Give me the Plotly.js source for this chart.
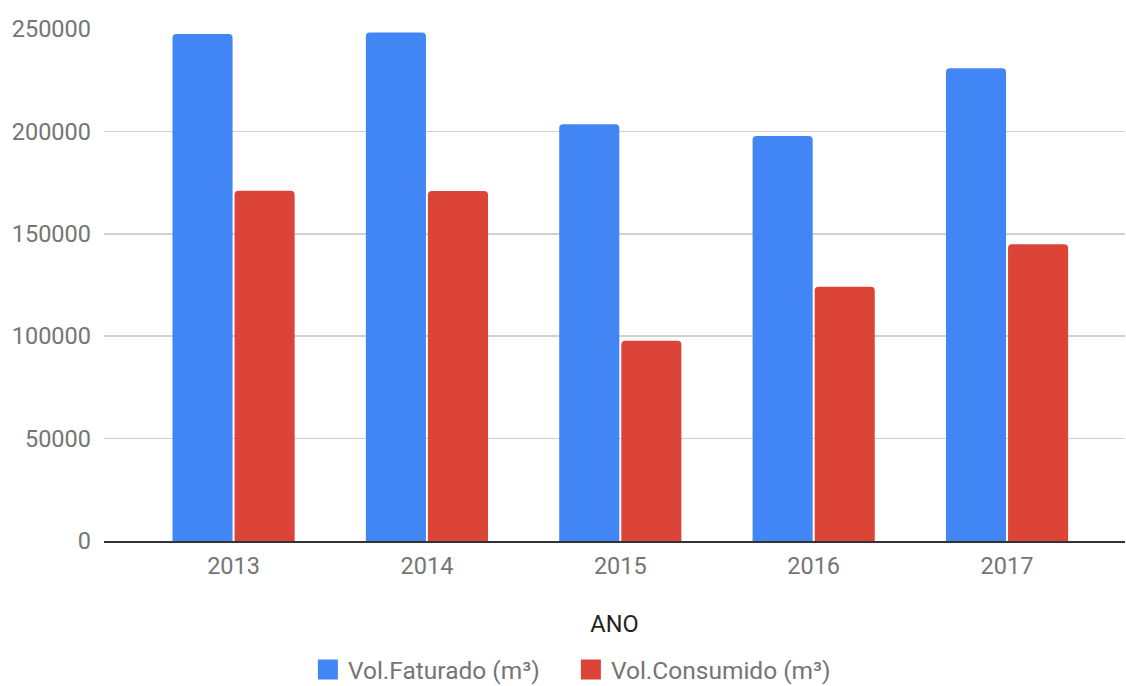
<!DOCTYPE html>
<html>
<head>
<meta charset="utf-8">
<script src="https://cdn.plot.ly/plotly-3.0.1.min.js"></script>
<style>html,body{margin:0;padding:0;background:#fff;}#chart{width:1126px;height:686px;}</style>
</head>
<body>
<div id="chart"></div>
<script>
const anos = ["2013", "2014", "2015", "2016", "2017"];
const volFaturado = [247500, 248300, 203500, 197700, 230800];
const volConsumido = [171000, 170900, 97800, 124200, 144900];
const nomeFaturado = "Vol.Faturado (m³)";
const nomeConsumido = "Vol.Consumido (m³)";
const yTicks = [0, 50000, 100000, 150000, 200000, 250000];
const corFaturado = "#4285F4";
const corConsumido = "#DB4437";

const font = "Roboto, 'Liberation Sans', Arial, sans-serif";
const fs = 23.5;

const data = [
  {type: "bar", x: anos, y: volFaturado, name: nomeFaturado, showlegend: false,
   marker: {color: corFaturado, cornerradius: 4}, hoverinfo: "skip"},
  {type: "bar", x: anos, y: volConsumido, name: nomeConsumido, showlegend: false,
   marker: {color: corConsumido, cornerradius: 4}, hoverinfo: "skip"},
  // legend entries (no visible points)
  {type: "scatter", mode: "markers", x: [anos[0]], y: [null], name: nomeFaturado,
   marker: {symbol: "square", size: 16, color: corFaturado, line: {color: corFaturado, width: 4}},
   hoverinfo: "skip"},
  {type: "scatter", mode: "markers", x: [anos[0]], y: [null], name: nomeConsumido,
   marker: {symbol: "square", size: 16, color: corConsumido, line: {color: corConsumido, width: 4}},
   hoverinfo: "skip"}
];

const layout = {
  width: 1126, height: 686,
  paper_bgcolor: "#fff", plot_bgcolor: "#fff",
  margin: {l: 104, r: 1, t: 29, b: 145},
  barmode: "group",
  bargap: 0.358,
  bargroupgap: 0.032,
  font: {family: font, size: fs, color: "#757575"},
  xaxis: {
    type: "category",
    range: [-0.67, 4.61],
    showgrid: false,
    showline: true, linecolor: "#333", linewidth: 2,
    ticks: "", ticklabelstandoff: 3,
    tickfont: {family: font, size: fs, color: "#757575"},
    title: {text: "ANO", font: {family: font, size: fs, color: "#222"}, standoff: 36}
  },
  yaxis: {
    range: [0, 250000],
    tickvals: yTicks,
    ticktext: yTicks.map(String),
    showgrid: true, gridcolor: "#d0d0d0", gridwidth: 1.5,
    zeroline: false,
    ticks: "", ticklabelstandoff: 12,
    tickfont: {family: font, size: fs, color: "#757575"}
  },
  showlegend: true,
  legend: {
    orientation: "h",
    xref: "container", yref: "container",
    x: 0.507, xanchor: "center",
    y: 0.0569, yanchor: "top",
    entrywidth: 218, entrywidthmode: "pixels",
    font: {family: font, size: 24.5, color: "#757575"},
    traceorder: "normal"
  }
};

Plotly.newPlot("chart", data, layout, {displayModeBar: false, staticPlot: true});
</script>
</body>
</html>
